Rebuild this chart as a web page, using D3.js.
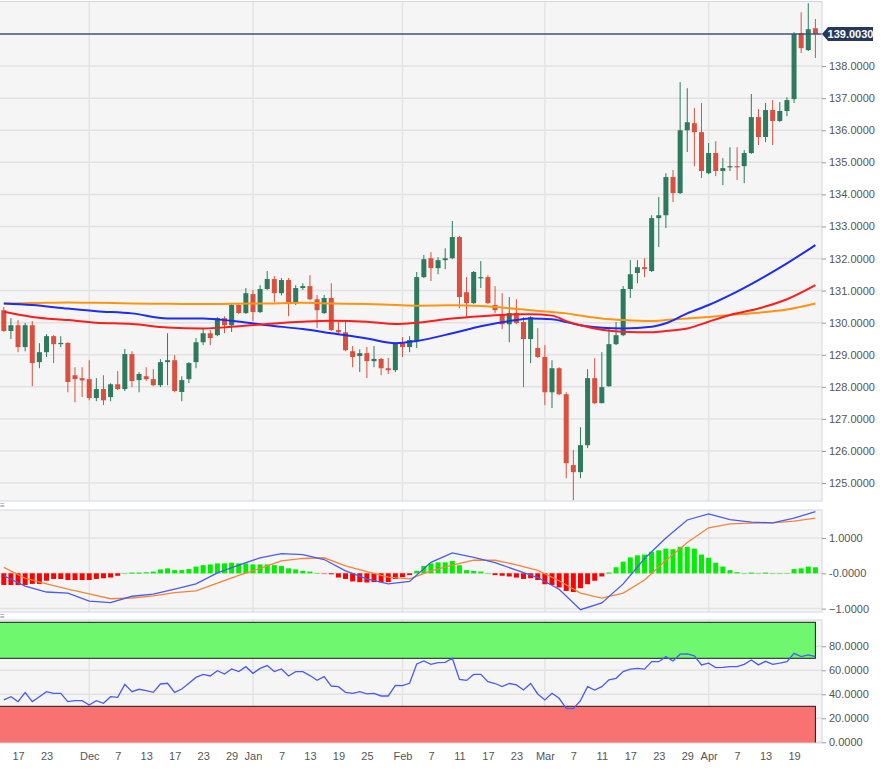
<!DOCTYPE html>
<html lang="en">
  <head>
    <meta charset="UTF-8" />
    <title>EUR/JPY daily</title>
    <style>
      body { margin: 0; background: #ffffff; }
      #chart { width: 894px; height: 774px; }
      text { font-family: "Liberation Sans", Arial, sans-serif; }
    </style>
  </head>
  <body>
    <div id="chart"></div>
    <script src="https://cdn.jsdelivr.net/npm/d3@7/dist/d3.min.js"></script>
    <script>
      // trading days shown, 15 Nov 2021 .. 22 Apr 2022
      var dates = [
        "2021-11-15","2021-11-16","2021-11-17","2021-11-18","2021-11-19","2021-11-22","2021-11-23","2021-11-24","2021-11-25","2021-11-26",
        "2021-11-29","2021-11-30","2021-12-01","2021-12-02","2021-12-03","2021-12-06","2021-12-07","2021-12-08","2021-12-09","2021-12-10",
        "2021-12-13","2021-12-14","2021-12-15","2021-12-16","2021-12-17","2021-12-20","2021-12-21","2021-12-22","2021-12-23","2021-12-24",
        "2021-12-27","2021-12-28","2021-12-29","2021-12-30","2021-12-31","2022-01-03","2022-01-04","2022-01-05","2022-01-06","2022-01-07",
        "2022-01-10","2022-01-11","2022-01-12","2022-01-13","2022-01-14","2022-01-17","2022-01-18","2022-01-19","2022-01-20","2022-01-21",
        "2022-01-24","2022-01-25","2022-01-26","2022-01-27","2022-01-28","2022-01-31","2022-02-01","2022-02-02","2022-02-03","2022-02-04",
        "2022-02-07","2022-02-08","2022-02-09","2022-02-10","2022-02-11","2022-02-14","2022-02-15","2022-02-16","2022-02-17","2022-02-18",
        "2022-02-21","2022-02-22","2022-02-23","2022-02-24","2022-02-25","2022-02-28","2022-03-01","2022-03-02","2022-03-03","2022-03-04",
        "2022-03-07","2022-03-08","2022-03-09","2022-03-10","2022-03-11","2022-03-14","2022-03-15","2022-03-16","2022-03-17","2022-03-18",
        "2022-03-21","2022-03-22","2022-03-23","2022-03-24","2022-03-25","2022-03-28","2022-03-29","2022-03-30","2022-03-31","2022-04-01",
        "2022-04-04","2022-04-05","2022-04-06","2022-04-07","2022-04-08","2022-04-11","2022-04-12","2022-04-13","2022-04-14","2022-04-15",
        "2022-04-18","2022-04-19","2022-04-20","2022-04-21","2022-04-22"
      ];

      var open = [
        130.39,129.74,129.92,129.24,129.92,128.77,129.08,129.58,129.33,129.37,
        128.36,128.27,128.24,127.65,127.93,127.68,128.08,127.93,129.02,128.21,
        128.33,128.24,128.05,128.77,128.83,127.84,128.24,128.77,129.39,129.67,
        129.61,130.14,129.92,130.55,130.30,130.89,130.33,131.05,131.36,130.92,
        131.33,130.61,131.08,131.14,130.73,130.30,130.77,129.77,129.70,129.11,
        128.96,129.05,128.80,128.87,128.58,128.52,129.36,129.24,129.42,131.42,
        132.01,131.70,131.95,132.01,132.67,130.95,130.61,131.39,131.42,130.55,
        130.27,129.95,130.30,130.02,129.49,129.21,128.93,127.83,128.58,127.77,
        125.56,125.34,126.18,128.27,127.49,128.02,129.33,129.61,131.05,131.55,
        131.73,131.61,133.26,133.35,134.54,134.04,136.00,136.22,135.94,134.66,
        135.29,134.73,134.85,134.88,134.88,135.29,136.41,135.79,136.63,136.29,
        136.60,136.97,139.03,138.50,139.18
      ];
      var high = [
        130.49,130.14,130.08,129.99,130.05,129.36,129.64,129.61,129.58,129.39,
        128.61,128.61,128.83,128.27,128.36,128.11,128.49,129.18,129.11,128.46,
        128.61,128.55,128.86,129.67,128.99,128.33,128.77,129.52,129.80,129.77,
        130.17,130.20,130.61,130.61,131.08,131.02,131.17,131.61,131.45,131.39,
        131.39,131.17,131.23,131.48,130.86,130.86,131.23,130.02,130.08,129.27,
        129.17,129.24,129.27,128.90,128.90,129.39,129.55,129.58,131.58,132.11,
        132.20,132.04,132.32,133.17,132.70,131.42,131.61,131.92,131.48,131.14,
        130.92,130.80,130.73,130.17,130.20,129.83,129.30,128.83,128.61,127.83,
        126.03,126.74,128.55,128.89,129.08,129.83,130.02,131.14,131.95,131.95,
        132.01,133.35,133.92,134.66,134.76,137.50,137.31,136.69,136.85,135.60,
        135.66,135.13,135.47,135.47,135.38,137.13,136.66,136.85,136.94,136.88,
        137.03,139.06,139.68,139.96,139.47
      ];
      var low = [
        129.72,129.49,129.08,129.11,128.02,128.58,128.93,128.74,129.24,127.83,
        127.52,127.68,127.58,127.55,127.43,127.55,127.90,127.87,127.99,127.83,
        128.18,128.02,127.99,128.05,127.83,127.55,128.12,128.58,129.30,129.30,
        129.58,129.67,129.71,130.27,130.27,130.05,130.30,131.02,130.64,130.85,
        130.20,130.55,131.02,130.70,129.83,130.27,129.74,129.61,129.11,128.61,
        128.46,128.27,128.61,128.36,128.40,128.46,128.93,129.08,129.21,131.39,
        131.30,131.51,131.67,131.98,130.45,130.17,130.58,131.08,130.58,130.30,
        129.80,129.39,129.95,127.99,128.74,128.90,127.43,127.34,127.74,125.15,
        124.46,125.15,126.09,127.46,127.49,128.00,129.30,129.58,130.77,131.23,
        131.42,131.58,132.36,132.95,133.76,134.01,135.32,134.88,134.51,134.63,
        134.57,134.29,134.73,134.45,134.35,135.26,135.54,135.63,135.54,136.25,
        136.44,136.85,138.41,138.47,138.25
      ];
      var close = [
        129.74,129.92,129.24,129.92,128.74,129.08,129.58,129.33,129.37,128.15,
        128.24,128.20,127.65,127.93,127.58,128.08,127.93,129.02,128.18,128.40,
        128.24,128.05,128.77,128.83,127.87,128.21,128.74,129.39,129.67,129.52,
        130.14,129.92,130.55,130.30,130.92,130.33,131.05,131.36,130.92,131.33,
        130.61,131.08,131.14,130.73,130.39,130.77,129.77,129.70,129.14,128.93,
        129.05,128.80,128.87,128.58,128.52,129.36,129.24,129.46,131.42,131.98,
        131.70,131.95,132.01,132.67,130.80,130.61,131.58,131.42,130.61,130.39,
        129.95,130.30,129.99,129.49,130.17,128.93,127.83,128.58,127.77,125.62,
        125.34,126.18,128.27,127.49,127.99,129.33,129.61,131.05,131.51,131.73,
        131.67,133.26,133.35,134.54,134.04,136.00,136.25,135.94,134.73,135.29,
        134.73,134.82,134.88,134.85,135.29,136.41,135.79,136.63,136.29,136.60,
        136.94,139.00,138.56,139.15,139.003
      ];
      var lastPrice = 139.003;

      // moving averages, read at sample days
      var maDates = [
        "2021-11-15","2021-11-19","2021-11-26","2021-12-02","2021-12-09","2021-12-16","2021-12-23","2021-12-29",
        "2022-01-05","2022-01-12","2022-01-18","2022-01-25","2022-01-31","2022-02-03","2022-02-10","2022-02-16",
        "2022-02-23","2022-02-25","2022-03-02","2022-03-04","2022-03-08","2022-03-11","2022-03-16","2022-03-22",
        "2022-03-24","2022-03-29","2022-04-01","2022-04-06","2022-04-12","2022-04-18","2022-04-22"
      ];
      var maOrange = [130.60,130.61,130.63,130.62,130.60,130.59,130.58,130.59,130.60,130.62,130.60,130.58,130.55,130.53,130.54,130.52,
        130.43,130.39,130.33,130.29,130.22,130.13,130.08,130.05,130.08,130.13,130.18,130.24,130.31,130.41,130.60];
      var maBlue = [130.60,130.55,130.44,130.36,130.29,130.13,130.13,130.06,129.92,129.80,129.67,129.51,129.36,129.43,129.67,129.89,
        130.08,130.13,130.11,130.02,129.92,129.84,129.82,129.87,129.98,130.29,130.55,130.86,131.33,131.85,132.42];
      var maRed = [130.34,130.18,130.08,130.00,129.96,129.85,129.82,129.87,129.96,130.03,130.06,130.03,129.96,130.00,130.13,130.20,
        130.26,130.26,130.22,130.05,129.92,129.78,129.72,129.70,129.74,129.82,130.03,130.24,130.44,130.73,131.17];

      // MACD histogram, one bar per day
      var macdHist = [
        -0.33,-0.33,-0.33,-0.33,-0.30,-0.30,-0.21,-0.16,-0.16,-0.19,
        -0.19,-0.19,-0.19,-0.16,-0.14,-0.12,-0.07,0.005,0.02,0.02,
        0.03,0.05,0.11,0.14,0.09,0.09,0.12,0.19,0.23,0.25,
        0.28,0.28,0.30,0.28,0.28,0.25,0.25,0.25,0.23,0.21,
        0.14,0.11,0.07,0.05,0.01,-0.01,-0.02,-0.12,-0.16,-0.23,
        -0.25,-0.26,-0.25,-0.25,-0.25,-0.16,-0.11,-0.05,0.07,0.21,
        0.28,0.31,0.31,0.35,0.23,0.09,0.07,0.05,0.005,-0.05,
        -0.07,-0.09,-0.12,-0.16,-0.14,-0.19,-0.31,-0.33,-0.40,-0.50,
        -0.53,-0.42,-0.31,-0.21,-0.09,0.02,0.17,0.33,0.45,0.51,
        0.53,0.61,0.65,0.70,0.68,0.75,0.75,0.70,0.53,0.44,
        0.30,0.19,0.09,0.03,0.005,0.02,0.005,0.02,0.005,0.005,
        0.005,0.12,0.14,0.19,0.17
      ];
      var macdDates = [
        "2021-11-15","2021-11-18","2021-11-23","2021-11-26","2021-12-01","2021-12-06","2021-12-09","2021-12-14",
        "2021-12-17","2021-12-22","2021-12-27","2021-12-30","2022-01-04","2022-01-07","2022-01-12","2022-01-17",
        "2022-01-20","2022-01-25","2022-01-28","2022-02-02","2022-02-07","2022-02-10","2022-02-15","2022-02-18",
        "2022-02-23","2022-02-28","2022-03-03","2022-03-08","2022-03-11","2022-03-16","2022-03-21","2022-03-24",
        "2022-03-29","2022-04-01","2022-04-06","2022-04-11","2022-04-14","2022-04-19","2022-04-22"
      ];
      var macdLine = [-0.07,-0.36,-0.53,-0.56,-0.79,-0.83,-0.65,-0.59,-0.45,-0.30,0.01,0.23,0.44,0.56,0.53,0.39,0.07,-0.16,-0.30,-0.23,
        0.31,0.58,0.45,0.30,0.09,-0.12,-0.45,-1.03,-0.84,-0.30,0.42,1.00,1.51,1.68,1.52,1.45,1.43,1.56,1.75];
      var macdSignal = [0.17,-0.14,-0.30,-0.45,-0.58,-0.72,-0.70,-0.64,-0.55,-0.50,-0.28,-0.06,0.14,0.35,0.42,0.44,0.21,0.05,-0.11,-0.16,
        0.07,0.23,0.37,0.37,0.24,0.08,-0.21,-0.56,-0.70,-0.56,-0.19,0.36,0.87,1.29,1.40,1.42,1.43,1.48,1.56];

      // RSI, one value per day
      var rsi = [
        35.3,38.0,33.9,41.4,33.9,38.0,42.2,40.8,40.8,33.9,
        34.7,34.7,31.1,34.7,32.5,38.0,37.5,48.3,42.2,44.2,
        43.0,41.6,48.6,49.2,41.6,44.4,49.2,54.1,56.6,55.3,
        59.7,56.9,61.1,58.9,63.0,57.5,61.6,63.9,58.9,61.1,
        55.3,58.9,58.9,55.6,51.7,54.7,46.9,46.4,41.6,40.8,
        42.2,40.3,40.8,38.6,38.6,47.5,47.2,49.2,65.3,67.8,
        65.0,66.4,66.6,70.0,52.4,51.6,56.6,56.6,50.5,49.0,
        46.4,49.0,47.8,43.6,49.0,40.3,35.3,40.8,36.7,28.3,
        28.0,34.7,46.4,43.6,46.4,52.0,53.3,58.9,61.0,61.6,
        61.0,67.2,67.2,71.4,67.8,73.4,73.7,72.0,64.5,65.9,
        62.3,62.5,63.0,63.0,65.0,68.6,64.5,67.5,65.0,65.9,
        67.2,74.1,71.4,72.8,71.4
      ];

      var priceTicks = [125,126,127,128,129,130,131,132,133,134,135,136,137,138];
      var macdTicks = [-1, 0, 1];
      var rsiTicks = [0, 20, 40, 60, 80];
      var tickDates = ["2021-11-17","2021-11-23","2021-12-01","2021-12-07","2021-12-13","2021-12-17","2021-12-23","2021-12-29",
        "2022-01-03","2022-01-07","2022-01-13","2022-01-19","2022-01-25","2022-02-01","2022-02-07","2022-02-11","2022-02-17",
        "2022-02-23","2022-03-01","2022-03-07","2022-03-11","2022-03-17","2022-03-23","2022-03-29","2022-04-01","2022-04-07",
        "2022-04-13","2022-04-19"];
      var tickLabels = ["17","23","Dec","7","13","17","23","29","Jan","7","13","19","25","Feb","7","11","17","23","Mar","7",
        "11","17","23","29","Apr","7","13","19"];
      var monthDates = ["2021-12-01","2022-01-03","2022-02-01","2022-03-01","2022-04-01"];

      var width = 894, height = 774, plotRight = 822;
      var upColor = "#2d7a5e", downColor = "#d9503e";
      var panels = {
        main: { top: 1.5, bottom: 501 },
        macd: { top: 510, bottom: 612 },
        rsi: { top: 620, bottom: 743 }
      };

      var svg = d3.select("#chart").append("svg")
        .attr("width", width)
        .attr("height", height);

      var x = d3.scalePoint().domain(dates).range([3.8, 815.4]);
      var yP = d3.scaleLinear().domain([124.44, 140.03]).range([501, 1]);
      var yM = d3.scaleLinear().domain([-1.096, 1.793]).range([612, 510]);
      var yR = d3.scaleLinear().domain([0, 100]).range([742.3, 622.3]);

      var defs = svg.append("defs");

      // panel background, grid and clip
      function makePanel(name, p, y, grid) {
        defs.append("clipPath").attr("id", "clip-" + name)
          .append("rect").attr("x", 0).attr("y", p.top).attr("width", plotRight).attr("height", p.bottom - p.top);
        svg.append("rect")
          .attr("x", 0).attr("y", p.top)
          .attr("width", plotRight).attr("height", p.bottom - p.top)
          .attr("fill", "#f5f5f5");
        var g = svg.append("g").attr("clip-path", "url(#clip-" + name + ")");
        g.selectAll("line.hgrid").data(grid).join("line")
          .attr("class", "hgrid")
          .attr("x1", 0).attr("x2", plotRight)
          .attr("y1", function (d) { return y(d); })
          .attr("y2", function (d) { return y(d); })
          .attr("stroke", "#e2e2e2").attr("stroke-width", 1.5);
        g.selectAll("line.vgrid").data(monthDates).join("line")
          .attr("class", "vgrid")
          .attr("x1", function (d) { return x(d); })
          .attr("x2", function (d) { return x(d); })
          .attr("y1", p.top).attr("y2", p.bottom)
          .attr("stroke", "#e4e4e4").attr("stroke-width", 1.5);
        return g;
      }

      function border(p) {
        svg.append("rect")
          .attr("x", -1).attr("y", p.top)
          .attr("width", plotRight + 1).attr("height", p.bottom - p.top)
          .attr("fill", "none").attr("stroke", "#d3d6e4").attr("stroke-width", 1);
      }

      // ---------- main price panel ----------
      var gMain = makePanel("main", panels.main, yP, priceTicks);

      var candles = dates.map(function (d, i) {
        return { d: d, o: open[i], h: high[i], l: low[i], c: close[i] };
      });

      gMain.selectAll("line.wick").data(candles).join("line")
        .attr("class", "wick")
        .attr("x1", function (d) { return x(d.d); })
        .attr("x2", function (d) { return x(d.d); })
        .attr("y1", function (d) { return yP(d.h); })
        .attr("y2", function (d) { return yP(d.l); })
        .attr("stroke", function (d) { return d.c >= d.o ? upColor : downColor; })
        .attr("stroke-width", 1);

      gMain.selectAll("rect.body").data(candles).join("rect")
        .attr("class", "body")
        .attr("x", function (d) { return x(d.d) - 2.5; })
        .attr("width", 5)
        .attr("y", function (d) { return yP(Math.max(d.o, d.c)); })
        .attr("height", function (d) { return Math.max(1.2, Math.abs(yP(d.o) - yP(d.c))); })
        .attr("fill", function (d) { return d.c >= d.o ? upColor : downColor; });

      var maLine = d3.line()
        .x(function (d) { return x(d.d); })
        .y(function (d) { return yP(d.v); })
        .curve(d3.curveMonotoneX);

      [[maOrange, "#ff9410"], [maBlue, "#1c2cf2"], [maRed, "#ff1c1c"]].forEach(function (s) {
        var pts = maDates.map(function (d, i) { return { d: d, v: s[0][i] }; });
        gMain.append("path")
          .attr("d", maLine(pts))
          .attr("fill", "none")
          .attr("stroke", s[1])
          .attr("stroke-width", 2);
      });

      // last price line
      svg.append("line")
        .attr("x1", 0).attr("x2", plotRight)
        .attr("y1", yP(lastPrice)).attr("y2", yP(lastPrice))
        .attr("stroke", "#3f5377").attr("stroke-width", 1.5);

      border(panels.main);

      // ---------- MACD panel ----------
      var gMacd = makePanel("macd", panels.macd, yM, macdTicks);

      gMacd.selectAll("rect.hist").data(macdHist).join("rect")
        .attr("class", "hist")
        .attr("x", function (d, i) { return x(dates[i]) - 2.5; })
        .attr("width", 5)
        .attr("y", function (d) { return d >= 0 ? yM(d) : yM(0); })
        .attr("height", function (d) { return Math.max(1, Math.abs(yM(d) - yM(0))); })
        .attr("fill", function (d) { return d >= 0 ? "#00ee00" : "#ff0000"; })
        .attr("opacity", function (d) { return Math.abs(d) < 0.015 ? 0.45 : 1; });

      var macdPath = d3.line()
        .x(function (d) { return x(d.d); })
        .y(function (d) { return yM(d.v); });

      gMacd.append("path")
        .attr("d", macdPath(macdDates.map(function (d, i) { return { d: d, v: macdSignal[i] }; })))
        .attr("fill", "none").attr("stroke", "#f7843a").attr("stroke-width", 1.3);
      gMacd.append("path")
        .attr("d", macdPath(macdDates.map(function (d, i) { return { d: d, v: macdLine[i] }; })))
        .attr("fill", "none").attr("stroke", "#4a5bf0").attr("stroke-width", 1.3);

      border(panels.macd);

      // ---------- RSI panel ----------
      var gRsi = makePanel("rsi", panels.rsi, yR, rsiTicks);
      var bandRight = x(dates[dates.length - 1]);

      gRsi.append("rect")
        .attr("x", -2).attr("y", yR(100))
        .attr("width", bandRight + 2).attr("height", yR(70) - yR(100))
        .attr("fill", "#6ff76f").attr("stroke", "#1a1a1a").attr("stroke-width", 1);
      gRsi.append("rect")
        .attr("x", -2).attr("y", yR(30))
        .attr("width", bandRight + 2).attr("height", yR(0) - yR(30) + 2)
        .attr("fill", "#f87272").attr("stroke", "#1a1a1a").attr("stroke-width", 1);

      gRsi.append("path")
        .attr("d", d3.line()
          .x(function (d, i) { return x(dates[i]); })
          .y(function (d) { return yR(d); })(rsi))
        .attr("fill", "none").attr("stroke", "#4a5bf0").attr("stroke-width", 1.3);

      border(panels.rsi);

      // small panel handles
      svg.append("text").attr("x", 0).attr("y", 508).attr("font-size", 8).attr("fill", "#888").text("≡");
      svg.append("text").attr("x", 0).attr("y", 618.5).attr("font-size", 8).attr("fill", "#888").text("≡");

      // ---------- axes ----------
      function styleAxis(ax) {
        ax.select(".domain").remove();
        ax.selectAll(".tick line").attr("stroke", "#9a9a9a");
        ax.selectAll("text")
          .attr("fill", "#555555")
          .attr("font-size", 11)
          .attr("font-family", "Liberation Sans, Arial, sans-serif");
      }

      var fmt4 = d3.format(".4f");

      styleAxis(svg.append("g")
        .attr("transform", "translate(" + plotRight + ",0)")
        .call(d3.axisRight(yP).tickValues(priceTicks).tickSize(4).tickPadding(3).tickFormat(fmt4)));

      styleAxis(svg.append("g")
        .attr("transform", "translate(" + plotRight + ",0)")
        .call(d3.axisRight(yM).tickValues(macdTicks).tickSize(4).tickPadding(3)
          .tickFormat(function (d) { return d === 0 ? "-0.0000" : fmt4(d); })));

      styleAxis(svg.append("g")
        .attr("transform", "translate(" + plotRight + ",0)")
        .call(d3.axisRight(yR).tickValues(rsiTicks).tickSize(4).tickPadding(3).tickFormat(fmt4)));

      styleAxis(svg.append("g")
        .attr("transform", "translate(0," + panels.rsi.bottom + ")")
        .call(d3.axisBottom(x).tickValues(tickDates).tickSize(0).tickPadding(9)
          .tickFormat(function (d, i) { return tickLabels[i]; })));

      // last price tag
      var ty = yP(lastPrice);
      svg.append("path")
        .attr("d", "M" + plotRight + "," + ty + "L" + (plotRight + 6) + "," + (ty - 7) +
          "L873," + (ty - 7) + "L873," + (ty + 7) + "L" + (plotRight + 6) + "," + (ty + 7) + "Z")
        .attr("fill", "#27395a");
      svg.append("text")
        .attr("x", 850.5).attr("y", ty).attr("dy", "0.35em")
        .attr("text-anchor", "middle")
        .attr("font-size", 11).attr("font-weight", "bold")
        .attr("fill", "#ffffff")
        .text(fmt4(lastPrice));
    </script>
  </body>
</html>
